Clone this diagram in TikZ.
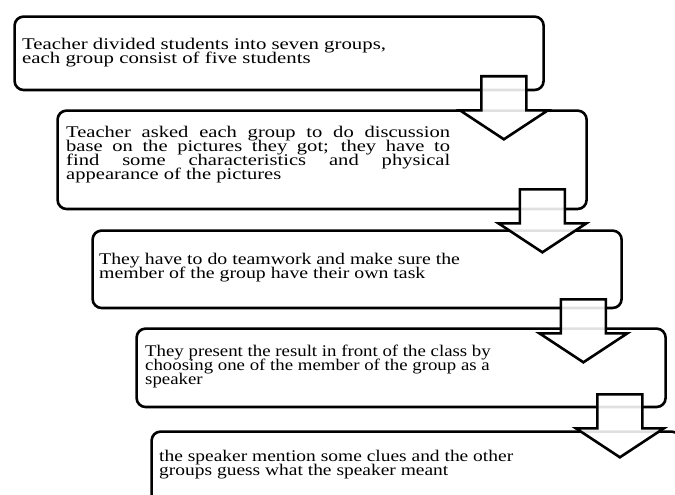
\documentclass[tikz,border=0pt]{standalone}
\usepackage{fontspec}
\setmainfont{Liberation Serif}
% widened serif faces, one per step
\newfontfamily\stepfontA[FakeStretch=1.277]{Liberation Serif}
\newfontfamily\stepfontB[FakeStretch=1.261]{Liberation Serif}
\newfontfamily\stepfontC[FakeStretch=1.215]{Liberation Serif}
\newfontfamily\stepfontD[FakeStretch=1.155]{Liberation Serif}
\newfontfamily\stepfontE[FakeStretch=1.194]{Liberation Serif}
% tight, fixed line pitch
\newcommand{\steptext}[3]{\parbox[t]{#1}{#2\fontsize{16.3}{14.0}\selectfont
  \lineskiplimit=-50pt\lineskip=0pt #3}}
\usetikzlibrary{calc}
\begin{document}
\begin{tikzpicture}[x=1pt,y=-1pt,
  box/.style={draw=black, line width=2.6pt, rounded corners=9pt, anchor=north west,
    inner sep=0pt, minimum width=529pt},
  txt/.style={anchor=base west, inner sep=0pt, text=black},
  arrowline/.style={draw=black, line width=2.6pt, fill=white, fill opacity=0.88,
    line join=miter},
  pics/blockarrow/.style={code={
    \draw[arrowline] (-22.5,0) -- (22.5,0) -- (22.5,34) -- (44,34) -- (0,63)
      -- (-44,34) -- (-22.5,34) -- cycle;}}]
\useasboundingbox (0,0) rectangle (675,495);

% process steps
\node[box, minimum height=73.4pt] (b1) at (13.3,15.3) {};
\node[box, minimum height=98.4pt] (b2) at (56.3,109.3) {};
\node[box, minimum height=77.4pt] (b3) at (91.3,229.3) {};
\node[box, minimum height=78.4pt] (b4) at (135.3,327.3) {};
\node[box, minimum height=100pt]  (b5) at (150.3,430.3) {};

% step texts
\node[txt] (t1) at (22,50) {\steptext{420pt}{\stepfontA}{Teacher divided students
  into seven groups,\\ each group consist of five students}};
\node[txt] (t2) at (66,137) {\steptext{384pt}{\stepfontB}{Teacher asked each
  group to do discussion\linebreak base on the pictures they got; they have
  to\linebreak find some characteristics and physical\linebreak appearance of
  the pictures}};
\node[txt] (t3) at (99,264) {\steptext{420pt}{\stepfontC}{They have to do teamwork
  and make sure the\\ member of the group have their own task}};
\node[txt] (t4) at (145,356.5) {\steptext{420pt}{\stepfontD}{They present the result
  in front of the class by\\ choosing one of the member of the group as a\\
  speaker}};
\node[txt] (t5) at (159,461) {\steptext{420pt}{\stepfontE}{the speaker mention
  some clues and the other\\ groups guess what the speaker meant}};

% block arrows between consecutive steps
\pic at ($(b1.south east)+(-41,-15)$) {blockarrow};
\pic at ($(b2.south east)+(-45.5,-21)$) {blockarrow};
\pic at ($(b3.south east)+(-39.5,-10)$) {blockarrow};
\pic at ($(b4.south east)+(-47,-14)$) {blockarrow};
\end{tikzpicture}
\end{document}
